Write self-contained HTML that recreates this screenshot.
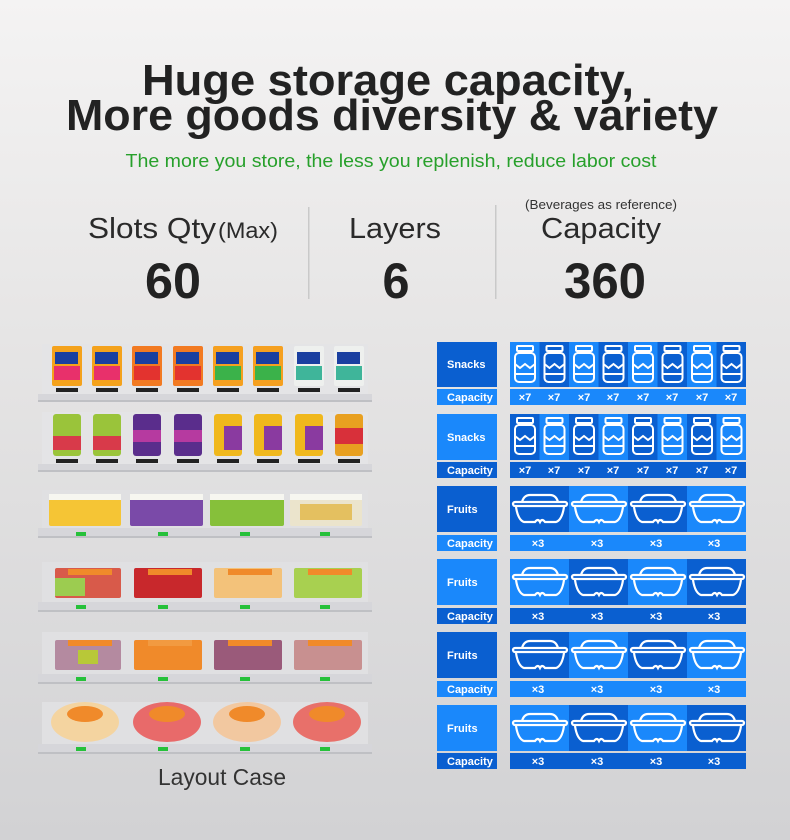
<!DOCTYPE html>
<html><head><meta charset="utf-8"><style>
html,body{margin:0;padding:0;}
body{width:790px;height:840px;overflow:hidden;background:linear-gradient(#f3f2f2,#e4e3e3 40%,#d3d3d5);}
svg{display:block;font-family:"Liberation Sans",sans-serif;}
</style></head><body>
<svg width="790" height="840" viewBox="0 0 790 840" xmlns="http://www.w3.org/2000/svg">
<defs>
<linearGradient id="bg" x1="0" y1="0" x2="0" y2="1"><stop offset="0" stop-color="#f4f3f3"/><stop offset="0.4" stop-color="#e6e5e5"/><stop offset="1" stop-color="#d2d2d4"/></linearGradient>
<g id="jar">
<rect x="7" y="4" width="16" height="5" rx="1" fill="none" stroke="#ffffff" stroke-width="2"/>
<path d="M9 9 v2 h12 v-2" fill="none" stroke="#ffffff" stroke-width="2"/>
<rect x="5" y="11" width="20" height="29" rx="4" fill="none" stroke="#ffffff" stroke-width="2"/>
<path d="M5 22 l5 4 l5 -4 l5 4 l5 -4" fill="none" stroke="#ffffff" stroke-width="2"/>
<path d="M5 32 h20" fill="none" stroke="#ffffff" stroke-width="2"/>
</g>
<g id="bowl">
<path d="M12 16 Q14 9 20 9 H40 Q46 9 48 16" fill="none" stroke="#ffffff" stroke-width="2.2"/>
<rect x="3" y="16" width="54" height="4" rx="2" fill="none" stroke="#ffffff" stroke-width="2.2"/>
<path d="M6 21 Q8 34 14 36 H25 Q28 32 30 36 Q32 32 35 36 H46 Q52 34 54 21" fill="none" stroke="#ffffff" stroke-width="2.2"/>
</g>
</defs>
<rect width="790" height="840" fill="url(#bg)"/>

<!-- Titles -->
<text x="388" y="95" font-size="44" font-weight="bold" fill="#222" text-anchor="middle" textLength="492" lengthAdjust="spacingAndGlyphs">Huge storage capacity,</text>
<text x="392" y="130" font-size="44" font-weight="bold" fill="#222" text-anchor="middle" textLength="652" lengthAdjust="spacingAndGlyphs">More goods diversity &amp; variety</text>
<text x="391" y="167" font-size="18" fill="#27a02b" text-anchor="middle" textLength="531" lengthAdjust="spacingAndGlyphs">The more you store, the less you replenish, reduce labor cost</text>

<!-- Stats -->
<text x="88" y="238" font-size="29" fill="#2a2a2a" textLength="128" lengthAdjust="spacingAndGlyphs">Slots Qty</text>
<text x="218" y="238" font-size="22" fill="#2a2a2a" textLength="60" lengthAdjust="spacingAndGlyphs">(Max)</text>
<text x="173" y="298" font-size="50" font-weight="bold" fill="#222" text-anchor="middle" textLength="56" lengthAdjust="spacingAndGlyphs">60</text>
<rect x="308" y="207" width="1.5" height="92" fill="#c9c9c9"/>
<text x="395" y="238" font-size="29" fill="#2a2a2a" text-anchor="middle" textLength="92" lengthAdjust="spacingAndGlyphs">Layers</text>
<text x="396" y="298" font-size="50" font-weight="bold" fill="#222" text-anchor="middle" textLength="27" lengthAdjust="spacingAndGlyphs">6</text>
<rect x="495" y="205" width="1.5" height="94" fill="#c9c9c9"/>
<text x="601" y="209" font-size="13" fill="#333" text-anchor="middle" textLength="152" lengthAdjust="spacingAndGlyphs">(Beverages as reference)</text>
<text x="601" y="238" font-size="29" fill="#2a2a2a" text-anchor="middle" textLength="120" lengthAdjust="spacingAndGlyphs">Capacity</text>
<text x="605" y="298" font-size="50" font-weight="bold" fill="#222" text-anchor="middle" textLength="82" lengthAdjust="spacingAndGlyphs">360</text>

<!-- LEFT SHELVES -->
<g>
<rect x="42" y="344" width="326" height="50" fill="#e4e4e6"/>
<rect x="38" y="394" width="334" height="7" fill="#d6d6da"/><rect x="38" y="400" width="334" height="2" fill="#bfc0c4"/>
<rect x="52" y="346" width="30" height="40" rx="2" fill="#f4a21c"/><rect x="55" y="352" width="23" height="12" fill="#1a3fa0"/><rect x="54" y="366" width="26" height="14" fill="#e8306b"/>
<rect x="92" y="346" width="30" height="40" rx="2" fill="#f4a21c"/><rect x="95" y="352" width="23" height="12" fill="#1a3fa0"/><rect x="94" y="366" width="26" height="14" fill="#e8306b"/>
<rect x="132" y="346" width="30" height="40" rx="2" fill="#f27a22"/><rect x="135" y="352" width="23" height="12" fill="#1a3fa0"/><rect x="134" y="366" width="26" height="14" fill="#e3332f"/>
<rect x="173" y="346" width="30" height="40" rx="2" fill="#f27a22"/><rect x="176" y="352" width="23" height="12" fill="#1a3fa0"/><rect x="175" y="366" width="26" height="14" fill="#e3332f"/>
<rect x="213" y="346" width="30" height="40" rx="2" fill="#f5a020"/><rect x="216" y="352" width="23" height="12" fill="#1a3fa0"/><rect x="215" y="366" width="26" height="14" fill="#3bb24a"/>
<rect x="253" y="346" width="30" height="40" rx="2" fill="#f5a020"/><rect x="256" y="352" width="23" height="12" fill="#1a3fa0"/><rect x="255" y="366" width="26" height="14" fill="#3bb24a"/>
<rect x="294" y="346" width="30" height="40" rx="2" fill="#eef0ee"/><rect x="297" y="352" width="23" height="12" fill="#1a3fa0"/><rect x="296" y="366" width="26" height="14" fill="#3fb59a"/>
<rect x="334" y="346" width="30" height="40" rx="2" fill="#eef0ee"/><rect x="337" y="352" width="23" height="12" fill="#1a3fa0"/><rect x="336" y="366" width="26" height="14" fill="#3fb59a"/>

<rect x="42" y="412" width="326" height="52" fill="#e4e4e6"/>
<rect x="38" y="464" width="334" height="7" fill="#d6d6da"/><rect x="38" y="470" width="334" height="2" fill="#bfc0c4"/>
<rect x="53" y="414" width="28" height="42" rx="3" fill="#9ac43a"/><rect x="53" y="436" width="28" height="14" fill="#d83a4a"/>
<rect x="93" y="414" width="28" height="42" rx="3" fill="#9ac43a"/><rect x="93" y="436" width="28" height="14" fill="#d83a4a"/>
<rect x="133" y="414" width="28" height="42" rx="3" fill="#5a2d8c"/><rect x="133" y="430" width="28" height="12" fill="#b63aa0"/>
<rect x="174" y="414" width="28" height="42" rx="3" fill="#5a2d8c"/><rect x="174" y="430" width="28" height="12" fill="#b63aa0"/>
<rect x="214" y="414" width="28" height="42" rx="3" fill="#f0b81c"/><rect x="224" y="426" width="18" height="24" fill="#8a3aa0"/>
<rect x="254" y="414" width="28" height="42" rx="3" fill="#f0b81c"/><rect x="264" y="426" width="18" height="24" fill="#8a3aa0"/>
<rect x="295" y="414" width="28" height="42" rx="3" fill="#f0b81c"/><rect x="305" y="426" width="18" height="24" fill="#8a3aa0"/>
<rect x="335" y="414" width="28" height="42" rx="3" fill="#e8a020"/><rect x="335" y="428" width="28" height="16" fill="#d8303a"/>
<g fill="#222">
<rect x="56" y="388" width="22" height="4"/><rect x="96" y="388" width="22" height="4"/><rect x="136" y="388" width="22" height="4"/><rect x="177" y="388" width="22" height="4"/><rect x="217" y="388" width="22" height="4"/><rect x="257" y="388" width="22" height="4"/><rect x="298" y="388" width="22" height="4"/><rect x="338" y="388" width="22" height="4"/>
<rect x="56" y="459" width="22" height="4"/><rect x="96" y="459" width="22" height="4"/><rect x="136" y="459" width="22" height="4"/><rect x="177" y="459" width="22" height="4"/><rect x="217" y="459" width="22" height="4"/><rect x="257" y="459" width="22" height="4"/><rect x="298" y="459" width="22" height="4"/><rect x="338" y="459" width="22" height="4"/>
</g>

<rect x="42" y="490" width="326" height="38" fill="#e0e0e2"/>
<rect x="38" y="528" width="334" height="9" fill="#d6d6da"/><rect x="38" y="536" width="334" height="2" fill="#bfc0c4"/>
<rect x="49" y="494" width="72" height="32" rx="2" fill="#f5c535"/><rect x="49" y="494" width="72" height="6" fill="#f6f6f0"/>
<rect x="130" y="494" width="73" height="32" rx="2" fill="#7a4aa8"/><rect x="130" y="494" width="73" height="6" fill="#f6f6f0"/>
<rect x="210" y="494" width="74" height="32" rx="2" fill="#86c03a"/><rect x="210" y="494" width="74" height="6" fill="#f6f6f0"/>
<rect x="290" y="494" width="72" height="32" rx="2" fill="#ebe4cc"/><rect x="300" y="504" width="52" height="16" fill="#e4c060"/><rect x="290" y="494" width="72" height="6" fill="#f6f6f0"/>

<rect x="42" y="562" width="326" height="40" fill="#e0e0e2"/>
<rect x="38" y="602" width="334" height="9" fill="#d6d6da"/><rect x="38" y="610" width="334" height="2" fill="#bfc0c4"/>
<rect x="55" y="568" width="66" height="30" rx="2" fill="#d85a4a"/><rect x="55" y="578" width="30" height="18" fill="#9ccc50"/><rect x="68" y="569" width="44" height="6" fill="#f08a2a"/>
<rect x="134" y="568" width="68" height="30" rx="2" fill="#c8282c"/><rect x="148" y="569" width="44" height="6" fill="#f08a2a"/>
<rect x="214" y="568" width="68" height="30" rx="2" fill="#f3c27a"/><rect x="228" y="569" width="44" height="6" fill="#f08a2a"/>
<rect x="294" y="568" width="68" height="30" rx="2" fill="#a8d050"/><rect x="308" y="569" width="44" height="6" fill="#f08a2a"/>

<rect x="42" y="632" width="326" height="42" fill="#e0e0e2"/>
<rect x="38" y="674" width="334" height="9" fill="#d6d6da"/><rect x="38" y="682" width="334" height="2" fill="#bfc0c4"/>
<rect x="55" y="640" width="66" height="30" rx="2" fill="#b48aa0"/><rect x="78" y="650" width="20" height="14" fill="#b8c838"/><rect x="68" y="640" width="44" height="6" fill="#f08a2a"/>
<rect x="134" y="640" width="68" height="30" rx="2" fill="#f08a2a"/><rect x="148" y="640" width="44" height="6" fill="#f29a40"/>
<rect x="214" y="640" width="68" height="30" rx="2" fill="#9a5a7a"/><rect x="228" y="640" width="44" height="6" fill="#f08a2a"/>
<rect x="294" y="640" width="68" height="30" rx="2" fill="#c89090"/><rect x="308" y="640" width="44" height="6" fill="#f08a2a"/>

<rect x="42" y="702" width="326" height="42" fill="#e0e0e2"/>
<rect x="38" y="744" width="334" height="9" fill="#d6d6da"/><rect x="38" y="752" width="334" height="2" fill="#bfc0c4"/>
<ellipse cx="85" cy="722" rx="34" ry="20" fill="#f4d4a0"/><ellipse cx="85" cy="714" rx="18" ry="8" fill="#f08a2a"/>
<ellipse cx="167" cy="722" rx="34" ry="20" fill="#e86a6a"/><ellipse cx="167" cy="714" rx="18" ry="8" fill="#f08a2a"/>
<ellipse cx="247" cy="722" rx="34" ry="20" fill="#f2c8a0"/><ellipse cx="247" cy="714" rx="18" ry="8" fill="#f08a2a"/>
<ellipse cx="327" cy="722" rx="34" ry="20" fill="#e8706a"/><ellipse cx="327" cy="714" rx="18" ry="8" fill="#f08a2a"/>
<g fill="#26c13a">
<rect x="76" y="532" width="10" height="4"/><rect x="158" y="532" width="10" height="4"/><rect x="240" y="532" width="10" height="4"/><rect x="320" y="532" width="10" height="4"/>
<rect x="76" y="605" width="10" height="4"/><rect x="158" y="605" width="10" height="4"/><rect x="240" y="605" width="10" height="4"/><rect x="320" y="605" width="10" height="4"/>
<rect x="76" y="677" width="10" height="4"/><rect x="158" y="677" width="10" height="4"/><rect x="240" y="677" width="10" height="4"/><rect x="320" y="677" width="10" height="4"/>
<rect x="76" y="747" width="10" height="4"/><rect x="158" y="747" width="10" height="4"/><rect x="240" y="747" width="10" height="4"/><rect x="320" y="747" width="10" height="4"/>
</g>
</g>
<text x="222" y="785" font-size="23" fill="#333" text-anchor="middle" textLength="128" lengthAdjust="spacingAndGlyphs">Layout Case</text>

<!-- RIGHT GRID -->
<g>
<rect x="437" y="342" width="60" height="45" fill="#0a5fd0"/>
<rect x="510" y="342" width="236" height="45" fill="#1a88fb"/>
<rect x="539.5" y="342" width="29.5" height="45" fill="#0a5fd0"/><rect x="598.5" y="342" width="29.5" height="45" fill="#0a5fd0"/><rect x="657.5" y="342" width="29.5" height="45" fill="#0a5fd0"/><rect x="716.5" y="342" width="29.5" height="45" fill="#0a5fd0"/>
<rect x="437" y="389" width="60" height="16" fill="#1a88fb"/><rect x="510" y="389" width="236" height="16" fill="#1a88fb"/>

<rect x="437" y="414" width="60" height="46" fill="#1a88fb"/>
<rect x="510" y="414" width="236" height="46" fill="#1a88fb"/>
<rect x="510" y="414" width="29.5" height="46" fill="#0a5fd0"/><rect x="569" y="414" width="29.5" height="46" fill="#0a5fd0"/><rect x="628" y="414" width="29.5" height="46" fill="#0a5fd0"/><rect x="687" y="414" width="29.5" height="46" fill="#0a5fd0"/>
<rect x="437" y="462" width="60" height="16" fill="#0a5fd0"/><rect x="510" y="462" width="236" height="16" fill="#0a5fd0"/>

<rect x="437" y="486" width="60" height="46" fill="#0a5fd0"/>
<rect x="510" y="486" width="236" height="46" fill="#1a88fb"/>
<rect x="510" y="486" width="59" height="46" fill="#0a5fd0"/><rect x="628" y="486" width="59" height="46" fill="#0a5fd0"/>
<rect x="437" y="535" width="60" height="16" fill="#1a88fb"/><rect x="510" y="535" width="236" height="16" fill="#1a88fb"/>

<rect x="437" y="559" width="60" height="46" fill="#1a88fb"/>
<rect x="510" y="559" width="236" height="46" fill="#1a88fb"/>
<rect x="569" y="559" width="59" height="46" fill="#0a5fd0"/><rect x="687" y="559" width="59" height="46" fill="#0a5fd0"/>
<rect x="437" y="608" width="60" height="16" fill="#0a5fd0"/><rect x="510" y="608" width="236" height="16" fill="#0a5fd0"/>

<rect x="437" y="632" width="60" height="46" fill="#0a5fd0"/>
<rect x="510" y="632" width="236" height="46" fill="#1a88fb"/>
<rect x="510" y="632" width="59" height="46" fill="#0a5fd0"/><rect x="628" y="632" width="59" height="46" fill="#0a5fd0"/>
<rect x="437" y="681" width="60" height="16" fill="#1a88fb"/><rect x="510" y="681" width="236" height="16" fill="#1a88fb"/>

<rect x="437" y="705" width="60" height="46" fill="#1a88fb"/>
<rect x="510" y="705" width="236" height="46" fill="#1a88fb"/>
<rect x="569" y="705" width="59" height="46" fill="#0a5fd0"/><rect x="687" y="705" width="59" height="46" fill="#0a5fd0"/>
<rect x="437" y="753" width="60" height="16" fill="#0a5fd0"/><rect x="510" y="753" width="236" height="16" fill="#0a5fd0"/>

<use href="#jar" x="510" y="342"/><use href="#jar" x="539.5" y="342"/><use href="#jar" x="569" y="342"/><use href="#jar" x="598.5" y="342"/><use href="#jar" x="628" y="342"/><use href="#jar" x="657.5" y="342"/><use href="#jar" x="687" y="342"/><use href="#jar" x="716.5" y="342"/>
<use href="#jar" x="510" y="414"/><use href="#jar" x="539.5" y="414"/><use href="#jar" x="569" y="414"/><use href="#jar" x="598.5" y="414"/><use href="#jar" x="628" y="414"/><use href="#jar" x="657.5" y="414"/><use href="#jar" x="687" y="414"/><use href="#jar" x="716.5" y="414"/>
<use href="#bowl" x="510" y="486"/><use href="#bowl" x="569" y="486"/><use href="#bowl" x="628" y="486"/><use href="#bowl" x="687" y="486"/>
<use href="#bowl" x="510" y="559"/><use href="#bowl" x="569" y="559"/><use href="#bowl" x="628" y="559"/><use href="#bowl" x="687" y="559"/>
<use href="#bowl" x="510" y="632"/><use href="#bowl" x="569" y="632"/><use href="#bowl" x="628" y="632"/><use href="#bowl" x="687" y="632"/>
<use href="#bowl" x="510" y="705"/><use href="#bowl" x="569" y="705"/><use href="#bowl" x="628" y="705"/><use href="#bowl" x="687" y="705"/>

<g font-weight="bold" font-size="11" fill="#ffffff">
<text x="447" y="368">Snacks</text>
<text x="447" y="441">Snacks</text>
<text x="447" y="513">Fruits</text>
<text x="447" y="586">Fruits</text>
<text x="447" y="659">Fruits</text>
<text x="447" y="732">Fruits</text>
<text x="447" y="401">Capacity</text><text x="447" y="474">Capacity</text><text x="447" y="547">Capacity</text><text x="447" y="620">Capacity</text><text x="447" y="693">Capacity</text><text x="447" y="765">Capacity</text>
<g text-anchor="middle">
<text x="525" y="401">×7</text><text x="554" y="401">×7</text><text x="584" y="401">×7</text><text x="613" y="401">×7</text><text x="643" y="401">×7</text><text x="672" y="401">×7</text><text x="702" y="401">×7</text><text x="731" y="401">×7</text>
<text x="525" y="474">×7</text><text x="554" y="474">×7</text><text x="584" y="474">×7</text><text x="613" y="474">×7</text><text x="643" y="474">×7</text><text x="672" y="474">×7</text><text x="702" y="474">×7</text><text x="731" y="474">×7</text>
<text x="538" y="547">×3</text><text x="597" y="547">×3</text><text x="656" y="547">×3</text><text x="714" y="547">×3</text>
<text x="538" y="620">×3</text><text x="597" y="620">×3</text><text x="656" y="620">×3</text><text x="714" y="620">×3</text>
<text x="538" y="693">×3</text><text x="597" y="693">×3</text><text x="656" y="693">×3</text><text x="714" y="693">×3</text>
<text x="538" y="765">×3</text><text x="597" y="765">×3</text><text x="656" y="765">×3</text><text x="714" y="765">×3</text>
</g>
</g>
</g>
</svg>
</body></html>
